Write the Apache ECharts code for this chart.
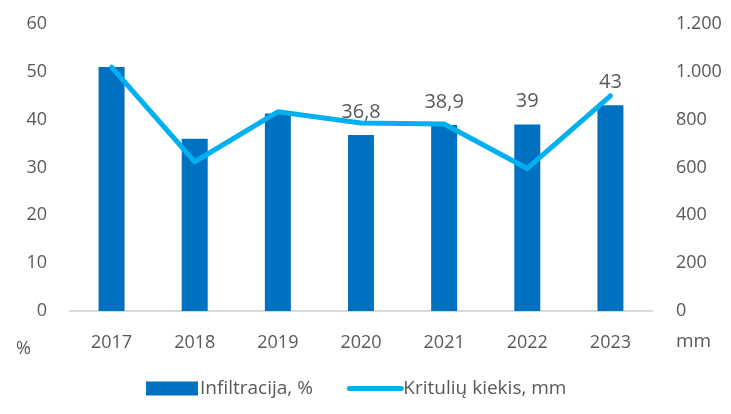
<!DOCTYPE html>
<html>
<head>
<meta charset="utf-8">
<script src="https://cdn.jsdelivr.net/npm/echarts@6/dist/echarts.min.js"></script>
<style>
  html, body { margin: 0; padding: 0; background: #fff; }
  #chart { width: 731px; height: 414px; }
</style>
</head>
<body>
<div id="chart"></div>
<script>
// Years on the category axis
const years = ['2017', '2018', '2019', '2020', '2021', '2022', '2023'];
// Infiltration share, %
const infiltracija = [51, 36, 41.3, 36.8, 38.9, 39, 43];
// Years whose bar carries a value label
const labelledYears = ['2020', '2021', '2022', '2023'];
// Annual precipitation, mm
const krituliai = [1020, 624, 833, 786, 782, 596, 899];
// Tick values of the two value axes
const leftTicks = { min: 0, max: 60, interval: 10 };
const rightTicks = { min: 0, max: 1200, interval: 200 };

const FONT = '"Open Sans", sans-serif';
const GREY = '#595959';

const chart = echarts.init(document.getElementById('chart'), null, { renderer: 'canvas' });

const fmtComma = v => String(v).replace('.', ',');
const fmtThousands = v => v >= 1000 ? (v / 1000).toFixed(3) : String(v);

chart.setOption({
  animation: false,
  textStyle: { fontFamily: FONT },
  grid: { left: 70, right: 79, top: 24, bottom: 103, containLabel: false },
  legend: {
    left: 141, top: 374,
    itemWidth: 52, itemHeight: 14, itemGap: 34,
    textStyle: { fontSize: 19, color: GREY, fontFamily: FONT, padding: [0, 0, 0, -3] },
    data: [
      { name: 'Infiltracija, %', icon: 'rect' },
      { name: 'Kritulių kiekis, mm', itemStyle: { opacity: 0 }, lineStyle: { width: 5, cap: 'round' } }
    ]
  },
  xAxis: {
    type: 'category',
    data: years,
    axisLine: { lineStyle: { color: '#d9d9d9', width: 2 } },
    axisTick: { show: false },
    axisLabel: { color: GREY, fontSize: 18, margin: 23, fontFamily: FONT }
  },
  yAxis: [
    {
      type: 'value',
      min: leftTicks.min, max: leftTicks.max, interval: leftTicks.interval,
      splitLine: { show: false },
      axisLine: { show: false },
      axisTick: { show: false },
      axisLabel: { color: GREY, fontSize: 18, margin: 23, fontFamily: FONT }
    },
    {
      type: 'value',
      min: rightTicks.min, max: rightTicks.max, interval: rightTicks.interval,
      splitLine: { show: false },
      axisLine: { show: false },
      axisTick: { show: false },
      axisLabel: { color: GREY, fontSize: 18, margin: 24, fontFamily: FONT, formatter: fmtThousands }
    }
  ],
  graphic: [
    { type: 'text', left: 16, top: 340, style: { text: '%', fill: GREY, font: '18px ' + FONT } },
    { type: 'text', left: 676, top: 332, style: { text: 'mm', fill: GREY, font: '19px ' + FONT } }
  ],
  series: [
    {
      name: 'Infiltracija, %',
      type: 'bar',
      yAxisIndex: 0,
      barWidth: 26,
      itemStyle: { color: '#0070C0' },
      data: infiltracija.map((v, i) => ({
        value: v,
        label: {
          show: labelledYears.includes(years[i]),
          position: 'top',
          distance: 13,
          color: GREY,
          fontSize: 20,
          fontFamily: FONT,
          formatter: p => fmtComma(p.value)
        }
      }))
    },
    {
      name: 'Kritulių kiekis, mm',
      type: 'line',
      yAxisIndex: 1,
      data: krituliai,
      symbol: 'none',
      lineStyle: { color: '#00B0F0', width: 5, cap: 'round', join: 'round' },
      itemStyle: { color: '#00B0F0' },
      z: 3
    }
  ]
});
</script>
</body>
</html>
